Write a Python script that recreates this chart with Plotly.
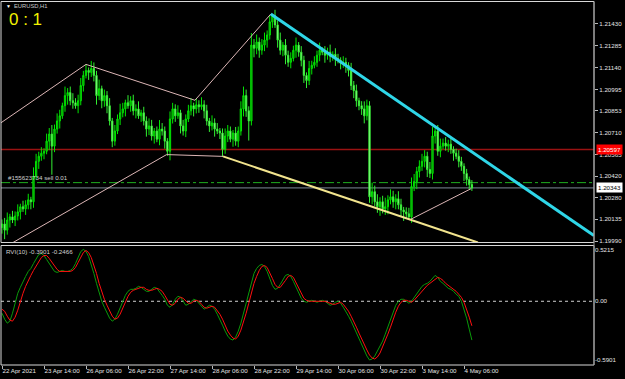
import plotly.graph_objects as go

# ---------------- data ----------------
bar_index = list(range(180))          # H1 bars, 0 = 22 Apr 2021 22:00
first_open = 1.20080
close = [
    1.20104, 1.20063, 1.20130, 1.20151, 1.20130, 1.20157, 1.20184, 1.20218, 1.20204, 1.20231,
    1.20264, 1.20251, 1.20419, 1.20519, 1.20553, 1.20573, 1.20586, 1.20653, 1.20700, 1.20620,
    1.20733, 1.20787, 1.20821, 1.20888, 1.20955, 1.20975, 1.20921, 1.20908, 1.20888, 1.20921,
    1.21022, 1.21089, 1.21122, 1.21109, 1.21135, 1.21089, 1.20955, 1.21001, 1.20921, 1.20955,
    1.20888, 1.20787, 1.20653, 1.20720, 1.20800, 1.20841, 1.20867, 1.20908, 1.20888, 1.20921,
    1.20854, 1.20867, 1.20821, 1.20841, 1.20787, 1.20733, 1.20754, 1.20687, 1.20720, 1.20666,
    1.20733, 1.20720, 1.20653, 1.20586, 1.20800, 1.20867, 1.20821, 1.20841, 1.20754, 1.20720,
    1.20800, 1.20854, 1.20888, 1.20867, 1.20894, 1.20881, 1.20894, 1.20854, 1.20787, 1.20754,
    1.20774, 1.20733, 1.20720, 1.20707, 1.20599, 1.20687, 1.20720, 1.20666, 1.20707, 1.20653,
    1.20720, 1.20867, 1.20955, 1.20854, 1.20787, 1.21290, 1.21269, 1.21310, 1.21256, 1.21290,
    1.21323, 1.21357, 1.21444, 1.21484, 1.21424, 1.21323, 1.21256, 1.21290, 1.21223, 1.21176,
    1.21202, 1.21256, 1.21290, 1.21243, 1.21189, 1.21089, 1.21055, 1.21135, 1.21156, 1.21176,
    1.21223, 1.21256, 1.21243, 1.21223, 1.21243, 1.21216, 1.21229, 1.21202, 1.21189, 1.21169,
    1.21176, 1.21156, 1.21122, 1.21022, 1.20988, 1.20921, 1.20888, 1.20867, 1.20821, 1.20888,
    1.20284, 1.20318, 1.20251, 1.20218, 1.20251, 1.20204, 1.20218, 1.20264, 1.20284, 1.20251,
    1.20271, 1.20231, 1.20197, 1.20184, 1.20171, 1.20151, 1.20352, 1.20385, 1.20452, 1.20486,
    1.20519, 1.20553, 1.20465, 1.20439, 1.20687, 1.20720, 1.20586, 1.20620, 1.20640, 1.20620,
    1.20633, 1.20599, 1.20573, 1.20553, 1.20519, 1.20486, 1.20439, 1.20398, 1.20365, 1.20343,
]
up_wick_pips = [
    3, 4, 5, 2, 4, 3, 5, 2, 4, 3,   4, 2, 6, 5, 3, 4, 2, 5, 4, 6,
    3, 5, 4, 2, 6, 3, 4, 5, 3, 4,   5, 3, 4, 2, 5, 4, 3, 6, 2, 4,
    3, 5, 2, 4, 3, 6, 4, 2, 5, 3,   4, 3, 5, 2, 4, 3, 5, 4, 2, 3,
    6, 4, 3, 2, 5, 4, 3, 5, 2, 4,   3, 4, 5, 2, 4, 3, 5, 3, 4, 2,
    5, 3, 4, 2, 3, 5, 4, 3, 2, 4,   3, 5, 6, 4, 3, 8, 4, 5, 3, 4,
    5, 3, 4, 1, 4, 3, 5, 2, 4, 3,   4, 3, 5, 2, 4, 3, 2, 5, 3, 4,
    3, 5, 2, 4, 3, 5, 2, 4, 3, 2,   4, 3, 2, 5, 3, 4, 2, 3, 5, 4,
    3, 6, 4, 5, 3, 4, 6, 3, 5, 4,   3, 5, 4, 2, 3, 4, 6, 5, 3, 4,
    5, 4, 3, 5, 6, 2, 4, 5, 3, 4,   3, 4, 2, 3, 4, 3, 2, 3, 2, 3,
]
dn_wick_pips = [
    4, 6, 3, 5, 2, 4, 3, 5, 2, 4,   3, 5, 4, 2, 5, 3, 4, 2, 6, 19,
    4, 3, 5, 2, 4, 6, 3, 4, 2, 5,   3, 4, 2, 5, 3, 4, 6, 3, 5, 4,
    5, 3, 4, 3, 2, 4, 3, 5, 2, 4,   3, 5, 2, 4, 3, 5, 4, 3, 5, 2,
    4, 3, 5, 3, 6, 3, 4, 2, 5, 3,   4, 2, 3, 5, 3, 4, 2, 5, 3, 4,
    3, 5, 2, 4, 5, 3, 4, 2, 5, 3,   4, 3, 5, 4, 13, 3, 6, 4, 5, 3,
    4, 5, 3, 4, 2, 5, 3, 4, 6, 3,   4, 2, 5, 3, 4, 5, 5, 3, 4, 2,
    3, 4, 2, 5, 3, 4, 3, 5, 2, 4,   3, 5, 4, 3, 5, 4, 3, 4, 5, 3,
    4, 5, 3, 4, 6, 3, 4, 5, 3, 4,   5, 3, 4, 6, 3, 2, 4, 3, 5, 4,
    3, 4, 5, 3, 4, 5, 3, 4, 2, 3,   4, 3, 5, 2, 4, 3, 5, 4, 3, 2,
]
rvi_main = [
    -0.12, -0.18, -0.22, -0.20, -0.12, -0.02, 0.08, 0.14, 0.20, 0.25,
    0.30, 0.33, 0.38, 0.43, 0.47, 0.48, 0.46, 0.42, 0.38, 0.33,
    0.30, 0.29, 0.30, 0.31, 0.30, 0.30, 0.31, 0.33, 0.38, 0.45,
    0.50, 0.5215, 0.50, 0.45, 0.37, 0.28, 0.18, 0.08, 0.00, -0.06,
    -0.12, -0.17, -0.20, -0.18, -0.13, -0.06, 0.00, 0.06, 0.10, 0.12,
    0.12, 0.13, 0.15, 0.14, 0.12, 0.10, 0.10, 0.12, 0.14, 0.13,
    0.10, 0.06, 0.02, -0.04, -0.06, -0.03, 0.02, 0.05, 0.04, 0.00,
    -0.04, -0.03, 0.00, 0.02, 0.01, -0.02, -0.06, -0.08, -0.06, -0.04,
    -0.05, -0.08, -0.13, -0.18, -0.24, -0.30, -0.35, -0.38, -0.39, -0.36,
    -0.30, -0.22, -0.12, -0.02, 0.10, 0.20, 0.28, 0.33, 0.36, 0.37,
    0.35, 0.30, 0.23, 0.16, 0.12, 0.13, 0.17, 0.22, 0.26, 0.27,
    0.25, 0.20, 0.14, 0.08, 0.03, 0.00, -0.01, 0.00, 0.01, 0.00,
    -0.01, 0.00, 0.01, 0.00, -0.02, -0.04, -0.03, -0.01, 0.00, -0.02,
    -0.06, -0.10, -0.15, -0.20, -0.26, -0.32, -0.38, -0.44, -0.50, -0.55,
    -0.5901, -0.58, -0.55, -0.50, -0.45, -0.40, -0.33, -0.26, -0.18, -0.10,
    -0.04, 0.00, 0.02, 0.02, 0.00, -0.02, 0.00, 0.04, 0.08, 0.12,
    0.15, 0.17, 0.18, 0.20, 0.23, 0.26, 0.24, 0.20, 0.18, 0.15,
    0.13, 0.12, 0.10, 0.07, 0.05, 0.00, -0.08, -0.17, -0.28, -0.3901,
]
rvi_signal = [
    -0.08, -0.10, -0.15, -0.19, -0.20, -0.16, -0.09, 0.00, 0.08, 0.15,
    0.21, 0.26, 0.31, 0.35, 0.40, 0.44, 0.46, 0.46, 0.43, 0.39,
    0.35, 0.32, 0.30, 0.30, 0.30, 0.30, 0.30, 0.31, 0.34, 0.39,
    0.44, 0.49, 0.51, 0.49, 0.44, 0.37, 0.28, 0.18, 0.09, 0.02,
    -0.04, -0.10, -0.15, -0.18, -0.17, -0.13, -0.07, -0.01, 0.05, 0.09,
    0.11, 0.12, 0.13, 0.14, 0.14, 0.12, 0.11, 0.11, 0.12, 0.13,
    0.12, 0.10, 0.06, 0.01, -0.03, -0.04, -0.02, 0.02, 0.04, 0.03,
    0.00, -0.02, -0.02, 0.00, 0.01, 0.00, -0.03, -0.06, -0.07, -0.06,
    -0.05, -0.06, -0.09, -0.13, -0.18, -0.24, -0.30, -0.34, -0.37, -0.38,
    -0.35, -0.29, -0.21, -0.12, -0.02, 0.08, 0.18, 0.25, 0.31, 0.35,
    0.36, 0.34, 0.29, 0.23, 0.17, 0.14, 0.14, 0.17, 0.21, 0.25,
    0.26, 0.24, 0.19, 0.13, 0.08, 0.03, 0.01, 0.00, 0.00, 0.00,
    0.00, 0.00, 0.00, 0.00, -0.01, -0.02, -0.03, -0.03, -0.02, -0.01,
    -0.03, -0.06, -0.10, -0.15, -0.20, -0.26, -0.32, -0.38, -0.44, -0.49,
    -0.54, -0.57, -0.58, -0.56, -0.52, -0.46, -0.40, -0.33, -0.26, -0.18,
    -0.11, -0.05, -0.01, 0.01, 0.01, 0.00, -0.01, 0.01, 0.04, 0.08,
    0.11, 0.14, 0.16, 0.18, 0.20, 0.22, 0.24, 0.23, 0.21, 0.18,
    0.16, 0.14, 0.12, 0.10, 0.07, 0.04, -0.01, -0.08, -0.16, -0.2466,
]
time_tick_bars = [0, 16, 32, 48, 64, 80, 96, 112, 128, 144, 160, 176]
time_tick_labels = ["22 Apr 2021", "23 Apr 14:00", "26 Apr 06:00", "26 Apr 22:00",
                    "27 Apr 14:00", "28 Apr 06:00", "28 Apr 22:00", "29 Apr 14:00",
                    "30 Apr 06:00", "30 Apr 22:00", "3 May 14:00", "4 May 06:00"]
price_ticks = [1.21430, 1.21285, 1.21140, 1.20995, 1.20853, 1.20710,
               1.20565, 1.20420, 1.20280, 1.20135, 1.19990]
rvi_ticks = [0.5215, 0.0, -0.5901]
rvi_tick_labels = ["0.5215", "0.00", "-0.5901"]

order_price = 1.20378          # sell order line
level_price = 1.20597          # red level
bid_price = 1.20343
order_text = "#155623734 sell 0.01"
rvi_text = "RVI(10) -0.3901 -0.2466"

# trend / pattern lines: (bar, price) endpoints
cyan_line = [(102.4, 1.21496), (225.5, 1.20027)]
yellow_line = [(84.2, 1.20552), (181.3, 1.19981)]
pink_lines = [
    [(-0.8, 1.20770), (32.0, 1.21162)],
    [(32.0, 1.21162), (73.5, 1.20924)],
    [(73.5, 1.20924), (102.4, 1.21496)],
    [(3.7, 1.19976), (62.7, 1.20564)],
    [(62.7, 1.20564), (84.2, 1.20552)],
    [(155.4, 1.20132), (178.7, 1.20338)],
]

# ---------------- figure ----------------
W, H = 625, 379
def px(x):
    return x / W
def py(y):
    return 1 - y / H

opens = [first_open] + close[:-1]
highs = [max(o, c) + u * 0.0001 for o, c, u in zip(opens, close, up_wick_pips)]
lows = [min(o, c) - d * 0.0001 for o, c, d in zip(opens, close, dn_wick_pips)]

FONT = "Liberation Sans"
TXT = "#e4e4e4"

fig = go.Figure()
fig.add_trace(go.Candlestick(
    x=bar_index, open=opens, high=highs, low=lows, close=close,
    increasing=dict(line=dict(color="#00e600", width=1), fillcolor="#0c7c0c"),
    decreasing=dict(line=dict(color="#33ee33", width=1), fillcolor="#c8ffc0"),
    whiskerwidth=0, xaxis="x", yaxis="y", hoverinfo="skip", showlegend=False))
fig.add_trace(go.Scatter(x=bar_index, y=rvi_main, mode="lines",
                         line=dict(color="#0a9a0a", width=1), xaxis="x", yaxis="y2",
                         hoverinfo="skip", showlegend=False))
fig.add_trace(go.Scatter(x=bar_index, y=rvi_signal, mode="lines",
                         line=dict(color="#ff1010", width=1), xaxis="x", yaxis="y2",
                         hoverinfo="skip", showlegend=False))

shapes = []
# horizontal levels (behind candles)
shapes.append(dict(type="line", xref="x domain", yref="y", x0=0, x1=1, y0=level_price, y1=level_price,
                   line=dict(color="#9a1212", width=1.5), layer="below"))
shapes.append(dict(type="line", xref="x domain", yref="y", x0=0, x1=1, y0=order_price, y1=order_price,
                   line=dict(color="#1fae1f", width=1, dash="dashdot"), layer="below"))
shapes.append(dict(type="line", xref="x domain", yref="y", x0=0, x1=1, y0=bid_price, y1=bid_price,
                   line=dict(color="#7d8a99", width=1), layer="below"))
# pattern lines
for seg in pink_lines:
    (x0, y0), (x1, y1) = seg
    shapes.append(dict(type="line", xref="x", yref="y", x0=x0, y0=y0, x1=x1, y1=y1,
                       line=dict(color="#dcb6b6", width=1)))
(x0, y0), (x1, y1) = yellow_line
shapes.append(dict(type="line", xref="x", yref="y", x0=x0, y0=y0, x1=x1, y1=y1,
                   line=dict(color="#f2e48e", width=2)))
(x0, y0), (x1, y1) = cyan_line
shapes.append(dict(type="line", xref="x", yref="y", x0=x0, y0=y0, x1=x1, y1=y1,
                   line=dict(color="#2fd6e8", width=3)))
# zero line of the indicator
shapes.append(dict(type="line", xref="x domain", yref="y2", x0=0, x1=1, y0=0, y1=0,
                   line=dict(color="#d0d0d0", width=1, dash="3px,3px"), layer="below"))
# window borders
shapes.append(dict(type="rect", xref="paper", yref="paper", x0=px(1), x1=px(594), y0=py(242.5), y1=py(1.5),
                   line=dict(color="#d8d8d8", width=1)))
shapes.append(dict(type="rect", xref="paper", yref="paper", x0=px(1), x1=px(594), y0=py(365), y1=py(245.5),
                   line=dict(color="#d8d8d8", width=1)))
shapes.append(dict(type="line", xref="paper", yref="paper", x0=px(594), x1=px(594), y0=py(365), y1=py(1.5),
                   line=dict(color="#8c8c8c", width=1)))

annotations = [
    dict(text="▼", x=px(4), y=py(6), xref="paper", yref="paper", xanchor="left", yanchor="middle",
         showarrow=False, font=dict(family=FONT, size=5, color="#ffffff")),
    dict(text="EURUSD,H1", x=px(12), y=py(6), xref="paper", yref="paper", xanchor="left", yanchor="middle",
         showarrow=False, font=dict(family=FONT, size=5.8, color="#c8c8c8")),
    dict(text="0 : 1", x=px(7), y=py(19.5), xref="paper", yref="paper", xanchor="left", yanchor="middle",
         showarrow=False, font=dict(family=FONT, size=17, color="#f2f200")),
    dict(text=order_text, x=px(6), y=order_price, xref="paper", yref="y", xanchor="left", yanchor="bottom",
         yshift=0, showarrow=False, font=dict(family=FONT, size=6.2, color="#d0d0d0")),
    dict(text=rvi_text, x=px(4), y=py(251), xref="paper", yref="paper", xanchor="left", yanchor="middle",
         showarrow=False, font=dict(family=FONT, size=6.2, color="#d0d0d0")),
    dict(text="1.20597", x=px(596), y=level_price, xref="paper", yref="y", xanchor="left", yanchor="middle",
         showarrow=False, bgcolor="#ff0000", borderpad=1, font=dict(family=FONT, size=6.2, color="#ffffff")),
    dict(text="1.20343", x=px(596), y=bid_price, xref="paper", yref="y", xanchor="left", yanchor="middle",
         showarrow=False, bgcolor="#ffffff", borderpad=1, font=dict(family=FONT, size=6.2, color="#000000")),
]

axis_font = dict(family=FONT, size=6.2, color=TXT)
fig.update_layout(
    width=W, height=H, margin=dict(l=0, r=0, t=0, b=0, autoexpand=False),
    paper_bgcolor="#000000", plot_bgcolor="#000000", showlegend=False,
    hovermode=False, dragmode=False,
    xaxis=dict(domain=[px(1), px(594)], range=[-0.38, 225.52], anchor="y2",
               tickvals=time_tick_bars, ticktext=time_tick_labels, tickangle=0,
               ticks="outside", ticklen=3, tickcolor="#b8b8b8", tickfont=axis_font,
               ticklabelposition="outside right", automargin=False,
               showgrid=False, zeroline=False, showline=False,
               rangeslider=dict(visible=False), fixedrange=True),
    yaxis=dict(domain=[py(242.5), py(1.5)], range=[1.19981, 1.21579], side="right", anchor="x",
               tickvals=price_ticks, ticktext=[f"{v:.5f}" for v in price_ticks],
               ticks="outside", ticklen=3, tickcolor="#b8b8b8", tickfont=axis_font, automargin=False,
               showgrid=False, zeroline=False, showline=False, fixedrange=True),
    yaxis2=dict(domain=[py(365), py(245.5)], range=[-0.6406, 0.5606], side="right", anchor="x",
                tickvals=rvi_ticks, ticktext=rvi_tick_labels, automargin=False,
                ticks="", tickfont=axis_font,
                showgrid=False, zeroline=False, showline=False, fixedrange=True),
    shapes=shapes, annotations=annotations,
)

fig.write_html("out.html", config={"displayModeBar": False})
